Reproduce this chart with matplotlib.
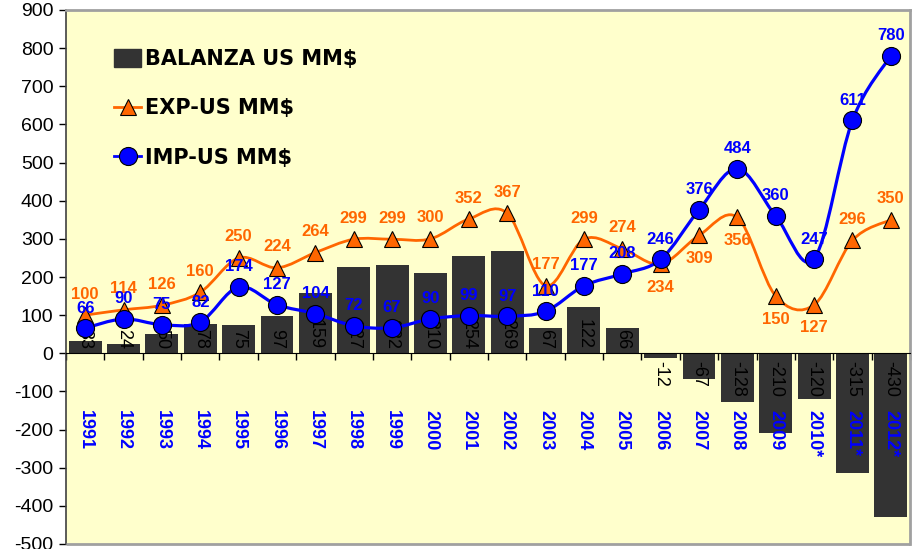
import matplotlib
matplotlib.use("Agg")
import matplotlib.pyplot as plt
from matplotlib.path import Path
from matplotlib.patches import PathPatch, Patch, Rectangle
from matplotlib.lines import Line2D
import numpy as np

plt.rcParams["axes.unicode_minus"] = False

years = ["1991", "1992", "1993", "1994", "1995", "1996", "1997", "1998", "1999", "2000",
         "2001", "2002", "2003", "2004", "2005", "2006", "2007", "2008", "2009", "2010*",
         "2011*", "2012*"]
balanza = [33, 24, 50, 78, 75, 97, 159, 227, 232, 210, 254, 269, 67, 122, 66,
           -12, -67, -128, -210, -120, -315, -430]
exp_us = [100, 114, 126, 160, 250, 224, 264, 299, 299, 300, 352, 367, 177, 299, 274,
          234, 309, 356, 150, 127, 296, 350]
imp_us = [66, 90, 75, 82, 174, 127, 104, 72, 67, 90, 99, 97, 110, 177, 208,
          246, 376, 484, 360, 247, 611, 780]
exp_label_below = [False] * 15 + [True, True, True, True, True, False, False]

BAR_C = "#333333"
ORANGE = "#FF6600"
BLUE = "#0000FF"
FONT = "Liberation Sans"

fig = plt.figure(figsize=(9.13, 5.49), dpi=100)
fig.patch.set_facecolor("white")
ax = fig.add_axes([66 / 913, 1 - 544 / 549, 844 / 913, 534 / 549])
ax.set_facecolor("#FFFFCC")

x = np.arange(len(years))
ax.set_xlim(-0.5, len(years) - 0.5)
ax.set_ylim(-500, 900)

bars = ax.bar(x, balanza, width=0.86, color=BAR_C, zorder=2)


def smooth_path(xs, ys):
    pts = np.column_stack([xs, ys]).astype(float)
    n = len(pts)
    verts = [pts[0]]
    codes = [Path.MOVETO]
    for i in range(n - 1):
        p0 = pts[i - 1] if i > 0 else pts[i]
        p1 = pts[i]
        p2 = pts[i + 1]
        p3 = pts[i + 2] if i + 2 < n else pts[i + 1]
        c1 = p1 + (p2 - p0) / 6.0
        c2 = p2 - (p3 - p1) / 6.0
        verts += [c1, c2, p2]
        codes += [Path.CURVE4] * 3
    return Path(verts, codes)


ax.add_patch(PathPatch(smooth_path(x, exp_us), fill=False, edgecolor=ORANGE, lw=2.0, zorder=4))
ax.add_patch(PathPatch(smooth_path(x, imp_us), fill=False, edgecolor=BLUE, lw=2.3, zorder=4))
ax.plot(x, exp_us, linestyle="none", marker="^", markersize=12, markerfacecolor=ORANGE,
        markeredgecolor="black", markeredgewidth=0.8, zorder=5)
ax.plot(x, imp_us, linestyle="none", marker="o", markersize=13, markerfacecolor=BLUE,
        markeredgecolor="black", markeredgewidth=0.8, zorder=6)

# bar labels (inside base)
for xi, v in zip(x, balanza):
    if v >= 0:
        ax.annotate(str(v), (xi, 0), xytext=(0, 4), textcoords="offset pixels",
                    rotation=270, ha="center", va="bottom", fontsize=13,
                    family=FONT, color="black", zorder=3)
    else:
        ax.annotate(str(v), (xi, 0), xytext=(0, -8), textcoords="offset pixels",
                    rotation=270, ha="center", va="top", fontsize=13,
                    family=FONT, color="black", zorder=3)

# line labels
for xi, v, below in zip(x, exp_us, exp_label_below):
    off = -23 if below else 21
    ax.annotate(str(v), (xi, v), xytext=(0, off), textcoords="offset pixels",
                ha="center", va="center", fontsize=12, fontweight="bold",
                family=FONT, color=ORANGE, zorder=7)
for xi, v in zip(x, imp_us):
    ax.annotate(str(v), (xi, v), xytext=(0, 20), textcoords="offset pixels",
                ha="center", va="center", fontsize=12, fontweight="bold",
                family=FONT, color=BLUE, zorder=8)

# year labels
for xi, y in zip(x, years):
    ax.text(xi, -150, y, rotation=270, ha="center", va="top", fontsize=13,
            fontweight="bold", family=FONT, color=BLUE, zorder=9)

# axes styling
ax.set_yticks(range(-500, 901, 100))
ax.tick_params(axis="y", direction="out", length=5, width=1, labelsize=14, pad=4,
               colors="black")
for lab in ax.get_yticklabels():
    lab.set_family(FONT)
ax.set_xticks(np.arange(-0.5, len(years), 1.0))
ax.set_xticklabels([])
ax.tick_params(axis="x", direction="out", length=5, width=1, colors="black")
ax.spines["bottom"].set_position(("data", 0))
ax.spines["bottom"].set_color("black")
ax.spines["bottom"].set_zorder(3)
ax.spines["left"].set_color("#404040")
ax.spines["left"].set_linewidth(1.2)
ax.spines["top"].set_color("#A0A0A0")
ax.spines["top"].set_linewidth(2)
ax.spines["right"].set_color("#A0A0A0")
ax.spines["right"].set_linewidth(2)
ax.add_patch(Rectangle((0, 0), 1, 0, transform=ax.transAxes, fill=False,
                       edgecolor="#A0A0A0", lw=2, clip_on=False, zorder=10))

handles = [
    Patch(facecolor=BAR_C, edgecolor=BAR_C),
    Line2D([], [], color=ORANGE, lw=2, marker="^", markersize=12,
           markerfacecolor=ORANGE, markeredgecolor="black", markeredgewidth=0.8),
    Line2D([], [], color=BLUE, lw=2, marker="o", markersize=13,
           markerfacecolor=BLUE, markeredgecolor="black", markeredgewidth=0.8),
]
labels = ["BALANZA US MM$", "EXP-US MM$", "IMP-US MM$"]
leg = ax.legend(handles, labels, loc="upper left", bbox_to_anchor=(0.045, 0.946),
                frameon=False, prop={"family": "DejaVu Sans", "weight": "bold", "size": 15},
                labelspacing=1.4, handlelength=1.3, handleheight=0.9,
                handletextpad=0.15, borderpad=0)
leg.set_zorder(20)

fig.savefig("out.png", dpi=100)
